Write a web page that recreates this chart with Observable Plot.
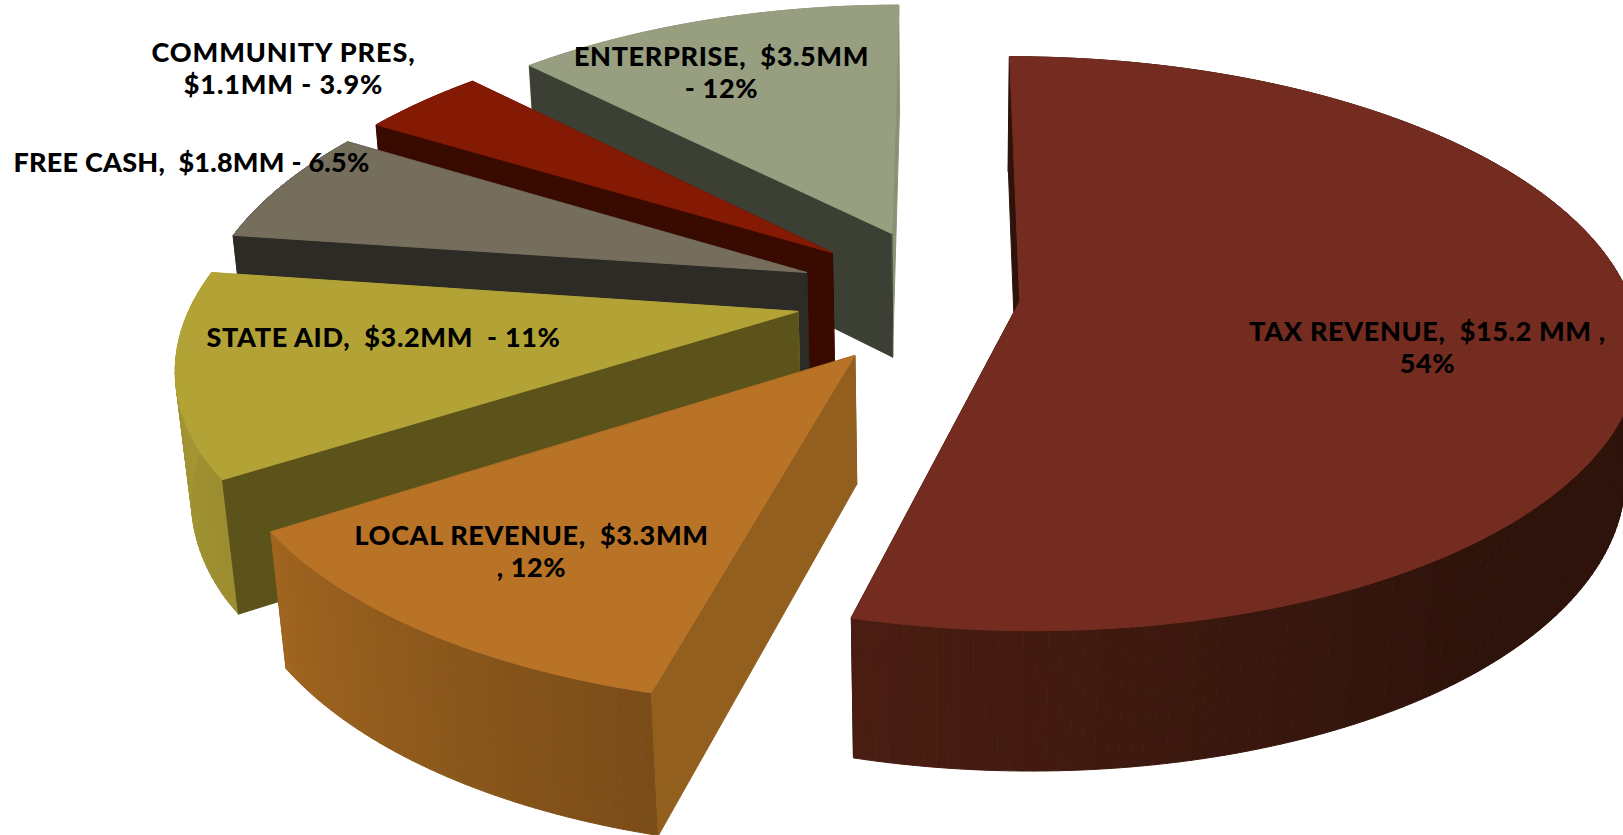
<!DOCTYPE html>
<html><head><meta charset="utf-8">
<script src="https://cdn.jsdelivr.net/npm/d3@7"></script>
<script src="https://cdn.jsdelivr.net/npm/@observablehq/plot@0.6"></script>
<style>html,body{margin:0;padding:0;background:#fff;overflow:hidden}svg{display:block}text{white-space:pre}</style>
</head><body><div id="chart"></div>
<script>
// ---- data ----
const categories = ["TAX REVENUE","LOCAL REVENUE","STATE AID","FREE CASH","COMMUNITY PRES","ENTERPRISE"];
const amounts = [15.2,3.3,3.2,1.8,1.1,3.5];
const labels = ["TAX REVENUE,  $15.2 MM ,\n54%","LOCAL REVENUE,  $3.3MM\n, 12%","STATE AID,  $3.2MM  - 11%","FREE CASH,  $1.8MM - 6.5%","COMMUNITY PRES,\n$1.1MM - 3.9%","ENTERPRISE,  $3.5MM\n- 12%"];
// ---- style ----
const topColors = ["#752c20","#b97327","#b3a336","#766e5d","#851a04","#979f80"];
const frontColors = ["#2e130b","#925f1f","#5c531b","#2d2b25","#380a00","#3c3f33"];
const backColors = ["#2e130b","#7a4c18","#9a8c30","#2d2b25","#380a00","#8a9275"];
const wallStops = [
  [[0,"#2e130b"],[0.72,"#2e130b"],[1,"#4a1d12"]],
  [[0,"#7a4c18"],[1,"#a0651f"]],
  [[0,"#9c8d30"],[1,"#a89a35"]],
  [[0,"#2d2b25"],[1,"#2d2b25"]],
  [[0,"#380a00"],[1,"#380a00"]],
  [[0,"#8a9275"],[1,"#8a9275"]]
];
// how far each slice is pulled out of the pie, in pie radii
const explodeX = [0.128,-0.139,-0.236,-0.227,-0.186,-0.086];
const explodeY = [-0.02,-0.209,-0.057,0.0835,0.157,0.23];
const drawOrder = [0,5,4,3,2,1];
const labelX = [1427,531,383,191,283,721];
const labelY = [346,550,336,161,67,71];
const labelSpacing = [0.65,0.65,0.65,0.25,0.9,0.65];
// ---- camera ----
const cam = {cx:941, cy:295, Sr:609.5, Tr:279, k:0.148, q:0.0208, vpY:6500, backShrink:0.018, backFrom:-0.55};
function project(X,Y,Z){
  const w0 = 1 + cam.k*Y;
  const shrink = X < 0 ? 1 - cam.backShrink*Math.max(0,Y-cam.backFrom) : 1;
  const tx = cam.cx + cam.Sr*X/w0*shrink;
  const ty = cam.cy - cam.Tr*Y/w0;
  const w = w0 + cam.q*Z;
  return [(tx*w0 + cam.cx*cam.q*Z)/w, (ty*w0 + cam.vpY*cam.q*Z)/w];
}
const rad = d => d*Math.PI/180;
const total = d3.sum(amounts);
const faces = [];
function addFace(id, pts, fill){ pts.forEach(p=>faces.push({id, px:p[0], py:p[1], fill})); }
let acc = 0;
const slices = amounts.map((v,i)=>{ const a0=acc/total*360; acc+=v; return {i,a0,a1:acc/total*360}; });
drawOrder.forEach(i=>{
  const {a0,a1} = slices[i];
  const ax = explodeX[i], ay = explodeY[i];
  const rim = a => [ax+Math.sin(rad(a)), ay+Math.cos(rad(a))];
  const n = Math.max(2,Math.ceil(a1-a0));
  const angles = d3.range(n+1).map(j=>a0+(a1-a0)*j/n);
  const color = d3.scaleLinear().domain(wallStops[i].map(s=>s[0])).range(wallStops[i].map(s=>s[1])).interpolate(d3.interpolateRgb);
  const rf = (a,col,tag)=>{ const r=rim(a); addFace(`${i}-${tag}`,[project(ax,ay,0),project(r[0],r[1],0),project(r[0],r[1],1),project(ax,ay,1)],col); };
  rf(a1,backColors[i],"b");
  for(let j=0;j<n;j++){
    const r0=rim(angles[j]), r1=rim(angles[j+1]);
    addFace(`${i}-w${j}`,[project(r0[0],r0[1],0),project(r1[0],r1[1],0),project(r1[0],r1[1],1),project(r0[0],r0[1],1)],color((j+.5)/n));
  }
  rf(a0,frontColors[i],"f");
  addFace(`${i}-t`,[project(ax,ay,0),...angles.map(a=>{const r=rim(a);return project(r[0],r[1],0);})],topColors[i]);
});
const labelRows = categories.map((c,i)=>({c,label:labels[i],x:labelX[i],y:labelY[i]}));
const chart = Plot.plot({
  width:1623, height:835, margin:0,
  x:{domain:[0,1623],range:[0,1623],axis:null},
  y:{domain:[0,835],range:[0,835],axis:null},
  color:{type:"identity"},
  marks:[
    Plot.line(faces,{x:"px",y:"py",z:"id",fill:"fill",stroke:"fill",strokeWidth:1,curve:"linear-closed"}),
    Plot.text(labelRows,{x:"x",y:"y",text:"label",fontFamily:"Lato",fontWeight:900,fontSize:27,fill:"#000",lineHeight:1.18,textAnchor:"middle"})
  ]
});
chart.querySelectorAll('g[aria-label="text"] text').forEach((t,i)=>{ t.style.letterSpacing = labelSpacing[i]+"px"; });
document.getElementById("chart").appendChild(chart);
</script></body></html>
